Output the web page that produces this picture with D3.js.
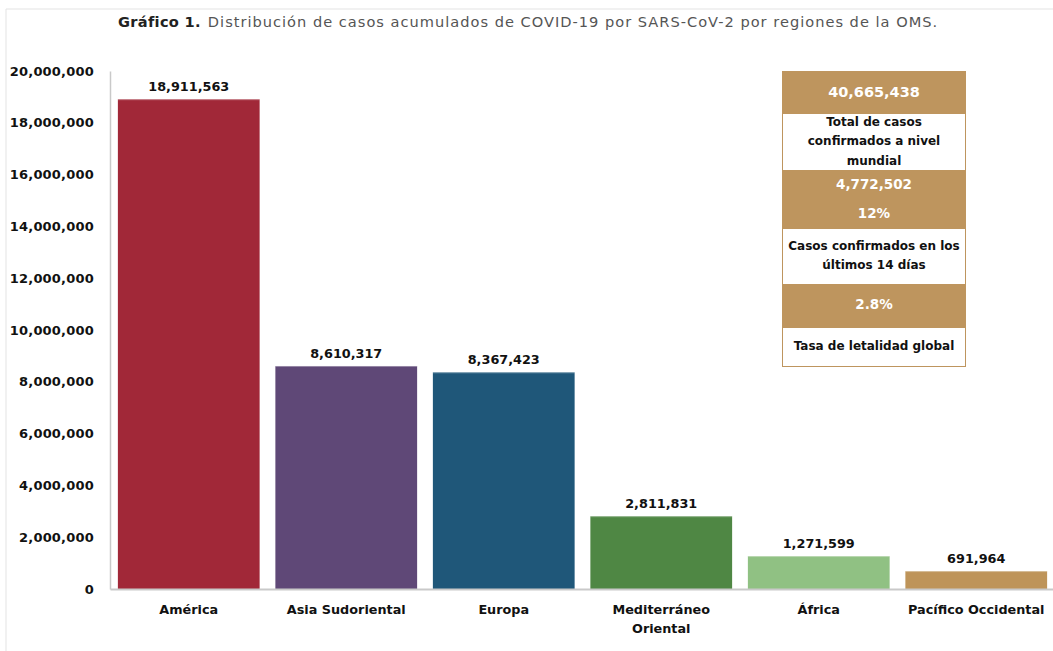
<!DOCTYPE html>
<html>
<head>
<meta charset="utf-8">
<script src="https://cdn.jsdelivr.net/npm/d3@7"></script>
<style>
  html, body { margin: 0; padding: 0; background: #fff; }
  svg { display: block; }
</style>
</head>
<body>
<svg id="chart" width="1053" height="651"></svg>
<script>
const categories = ["América", "Asia Sudoriental", "Europa", "Mediterráneo Oriental", "África", "Pacífico Occidental"];
const categoryLines = [["América"], ["Asia Sudoriental"], ["Europa"], ["Mediterráneo", "Oriental"], ["África"], ["Pacífico Occidental"]];
const values = [18911563, 8610317, 8367423, 2811831, 1271599, 691964];
const colors = ["#A12838", "#5F4877", "#1F5779", "#4F8744", "#90C183", "#BE9459"];
const yTicks = [0, 2000000, 4000000, 6000000, 8000000, 10000000, 12000000, 14000000, 16000000, 18000000, 20000000];
const titleBold = "Gráfico 1.";
const titleRest = "Distribución de casos acumulados de COVID-19 por SARS-CoV-2 por regiones de la OMS.";
// info box rows: [type, lines]
const boxRows = [
  ["fill", ["40,665,438"]],
  ["blank", ["Total de casos", "confirmados a nivel", "mundial"]],
  ["fill", ["4,772,502", "12%"]],
  ["blank", ["Casos confirmados en los", "últimos 14 días"]],
  ["fill", ["2.8%"]],
  ["blank", ["Tasa de letalidad global"]]
];

const svg = d3.select("#chart");
const font = "'DejaVu Sans', sans-serif";
const boxColor = "#BE955E";

// frame lines
svg.append("line").attr("x1", 6).attr("x2", 1053).attr("y1", 9).attr("y2", 9)
  .attr("stroke", "#e3e3e3").attr("stroke-width", 1);
svg.append("line").attr("x1", 6).attr("x2", 6).attr("y1", 9).attr("y2", 651)
  .attr("stroke", "#e3e3e3").attr("stroke-width", 1);

// title
const title = svg.append("text").attr("x", 118).attr("y", 27)
  .attr("font-family", font).attr("font-size", 14.6).attr("fill", "#222");
title.append("tspan").attr("font-weight", "bold").attr("letter-spacing", 0.3).text(titleBold);
title.append("tspan").attr("dx", 7).attr("font-weight", "normal").attr("fill", "#555")
  .attr("letter-spacing", 1.0).text(titleRest);

const x = d3.scaleBand().domain(categories).range([110, 1055]).paddingInner(0.1).paddingOuter(0.05);
const y = d3.scaleLinear().domain([0, 20000000]).range([589, 71]);

// y axis
const yAxis = svg.append("g").attr("transform", "translate(110,0)")
  .call(d3.axisLeft(y).tickValues(yTicks).tickFormat(d3.format(",")).tickSize(0).tickPadding(16));
yAxis.select(".domain").attr("stroke", "#c9c9c9").attr("stroke-width", 1.5);
yAxis.selectAll("text").attr("font-family", font).attr("font-size", 13)
  .attr("font-weight", "bold").attr("fill", "#111").attr("letter-spacing", 0.2);

// bars
svg.append("g").selectAll("rect").data(values).join("rect")
  .attr("x", (d, i) => x(categories[i]))
  .attr("y", d => y(d))
  .attr("width", x.bandwidth())
  .attr("height", d => y(0) - y(d))
  .attr("fill", (d, i) => colors[i]);
svg.append("g").selectAll("line").data(values).join("line")
  .attr("x1", (d, i) => x(categories[i]))
  .attr("x2", (d, i) => x(categories[i]) + x.bandwidth())
  .attr("y1", d => y(d) + 0.5).attr("y2", d => y(d) + 0.5)
  .attr("stroke", "#fff").attr("stroke-opacity", 0.35);

// x axis
const xAxis = svg.append("g").attr("transform", "translate(0,589)")
  .call(d3.axisBottom(x).tickSize(0).tickFormat(""));
xAxis.select(".domain").attr("stroke", "#c9c9c9").attr("stroke-width", 2);
xAxis.selectAll(".tick text").remove();
xAxis.selectAll(".tick").each(function(d, i) {
  const t = d3.select(this).append("text").attr("text-anchor", "middle")
    .attr("font-family", font).attr("font-size", 12.8).attr("font-weight", "bold").attr("fill", "#111");
  categoryLines[i].forEach((ln, k) => {
    t.append("tspan").attr("x", 0).attr("y", 25 + k * 19).text(ln);
  });
});

// value labels
svg.append("g").selectAll("text").data(values).join("text")
  .attr("x", (d, i) => x(categories[i]) + x.bandwidth() / 2)
  .attr("y", d => y(d) - 8)
  .attr("text-anchor", "middle")
  .attr("font-family", font).attr("font-size", 12.8).attr("font-weight", "bold").attr("fill", "#111")
  .text(d => d3.format(",")(d));

// info box
const bx = 782, bw = 184;
const rowTops = [71, 114, 170, 229, 284, 328, 367];
const lineYs = [
  [97],
  [126, 145, 165],
  [189, 218],
  [250, 269],
  [309],
  [350]
];
const box = svg.append("g");
boxRows.forEach((r, i) => {
  box.append("rect").attr("x", bx).attr("y", rowTops[i]).attr("width", bw)
    .attr("height", rowTops[i + 1] - rowTops[i])
    .attr("fill", r[0] === "fill" ? boxColor : "#fff");
  r[1].forEach((ln, k) => {
    box.append("text").attr("x", bx + bw / 2).attr("y", lineYs[i][k])
      .attr("text-anchor", "middle").attr("font-family", font)
      .attr("font-weight", "bold")
      .attr("font-size", r[0] === "fill" ? (i === 0 ? 14.5 : 13.5) : 12)
      .attr("fill", r[0] === "fill" ? "#fff" : "#111")
      .text(ln);
  });
});
box.append("rect").attr("x", bx + 0.5).attr("y", 71.5).attr("width", bw - 1).attr("height", 367 - 72)
  .attr("fill", "none").attr("stroke", boxColor).attr("stroke-width", 1);
</script>
</body>
</html>
